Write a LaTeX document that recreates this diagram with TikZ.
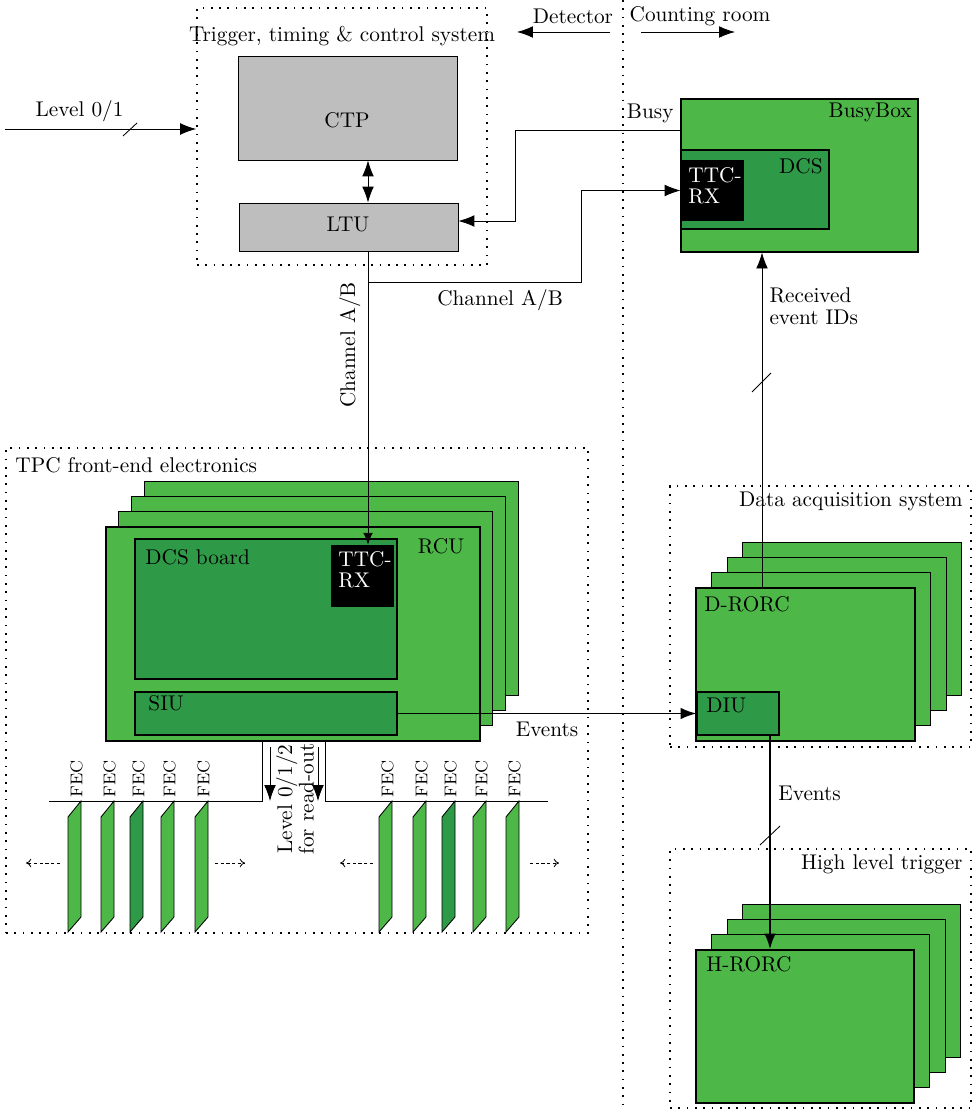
\documentclass[tikz,border=0pt]{standalone}
\usepackage{tikz}
\usetikzlibrary{arrows.meta,positioning,fit}
\definecolor{boardgreen}{RGB}{77,184,72}
\definecolor{chipgreen}{RGB}{46,154,72}
\definecolor{unitgray}{RGB}{190,190,190}
\tikzset{
  unit/.style={draw, fill=unitgray, inner sep=0pt},
  board/.style={draw, fill=boardgreen, inner sep=0pt, line width=0.5pt},
  chip/.style={draw, fill=chipgreen, inner sep=0pt, line width=0.5pt},
  rxchip/.style={fill=black, inner sep=0pt},
  sysbox/.style={draw, line width=0.8pt, dash pattern=on 0.8pt off 3.1pt, inner sep=0pt},
  txt/.style={inner sep=0pt},
  rxtxt/.style={inner sep=0pt, anchor=north west, align=left, text=white},
  more/.style={dash pattern=on 1.5pt off 1.2pt, -{To[length=2.5pt,width=4pt]}},
}

\begin{document}
\begin{tikzpicture}[x=0.47pt, y=-0.47pt, >={Latex[length=7.5pt,width=5.5pt]}]
    \useasboundingbox (0,0) rectangle (973,1110);

    % Dotted system boxes and the detector / counting room border
    \node[sysbox, fit={(197,8) (487,265)}] (ttc) {};
    \node[sysbox, fit={(6,448) (588,933)}] (tpc) {};
    \node[sysbox, fit={(670,486) (971,747)}] (daq) {};
    \node[sysbox, fit={(670,849) (971,1108)}] (hlt) {};
    \draw[sysbox] (623,0) -- (623,1110);

    \node[txt] (ttctitle) at (342,36) {Trigger, timing \& control system};
    \node[txt, anchor=west] (tpctitle) at (15,465) {TPC front-end electronics};
    \node[txt, anchor=east] (daqtitle) at (963,501) {Data acquisition system};
    \node[txt, anchor=east] (hlttitle) at (963,864) {High level trigger};
    \node[txt] (dettitle) at (573,16) {Detector};
    \node[txt] (crtitle) at (700,16) {Counting room};
    \coordinate (detA) at (610,32);
    \coordinate (detB) at (517,32);
    \coordinate (crA) at (641,32);
    \coordinate (crB) at (735,32);
    \draw[->] (detA) -- (detB);
    \draw[->] (crA) -- (crB);

    % Trigger units
    \node[unit, fit={(238,56) (457,160)}] (ctp) {};
    \node[txt] (ctplabel) at (347,120) {CTP};
    \node[unit, fit={(239,203) (458,251)}] (ltu) {};
    \node[txt] (ltulabel) at (348,224) {LTU};

    % BusyBox
    \node[board, fit={(681,99) (918,252)}] (busybox) {};
    \node[txt, anchor=east] (busyboxlabel) at (912,112) {BusyBox};
    \node[chip, fit={(681,150) (829,229)}] (bbdcs) {};
    \node[txt, anchor=east] (bbdcslabel) at (823,166) {DCS};
    \node[rxchip, fit={(681,160) (744,221)}] (bbttc) {};
    \node[rxtxt] (bbttclabel) at (688,167) {TTC-\\[-2pt]RX};

    % RCU stack
    \foreach \i in {3,2,1}
        \draw[board] (106+12.7*\i,527-15.3*\i) rectangle ++(374,214);
    \node[board, fit={(106,527) (480,741)}] (rcu) {};
    \node[txt] (rculabel) at (441,546) {RCU};
    \node[chip, fit={(135,539) (397,679)}] (dcsboard) {};
    \node[txt, anchor=west] (dcsboardlabel) at (145,557) {DCS board};
    \node[rxchip, fit={(331,545) (394,607)}] (rcuttc) {};
    \node[rxtxt] (rcuttclabel) at (338,551) {TTC-\\[-2pt]RX};
    \node[chip, fit={(135,692) (397,735)}] (siu) {};
    \node[txt, anchor=west] (siulabel) at (148,703) {SIU};

    % D-RORC stack
    \foreach \i in {3,2,1}
        \draw[board] (696+15.6*\i,588-15.3*\i) rectangle ++(219,153);
    \node[board, fit={(696,588) (915,741)}] (drorc) {};
    \node[txt, anchor=west] (drorclabel) at (704,604) {D-RORC};
    \node[chip, fit={(697,692) (779,735)}] (diu) {};
    \node[txt, anchor=west] (diulabel) at (706,705) {DIU};

    % H-RORC stack
    \foreach \i in {3,2,1}
        \draw[board] (696+15.6*\i,950-15.3*\i) rectangle ++(218,153);
    \node[board, fit={(696,950) (914,1103)}] (hrorc) {};
    \node[txt, anchor=west] (hrorclabel) at (706,964) {H-RORC};

    % Front-end cards on the two branches
    \coordinate (busl) at (49,801);
    \coordinate (busr) at (548,801);
    \draw (rcu.south -| 262,0) |- (busl);
    \draw (rcu.south -| 325,0) |- (busr);
    \foreach \x/\c in {68/boardgreen,101/boardgreen,130/chipgreen,161/boardgreen,195/boardgreen,
                       379/boardgreen,413/boardgreen,442/chipgreen,473/boardgreen,506/boardgreen}{
        \draw[fill=\c] (\x,932) -- (\x,817) -- (\x+13,801) -- (\x+13,917) -- cycle;
        \node[txt, rotate=90, anchor=west, font=\footnotesize] (fec\x) at (\x+8.5,798) {FEC};
    }
    \foreach \a/\b in {60/26,215/245,373/340,530/559}
        \draw[more] (\a,863) -- (\b,863);

    \coordinate (lvlA) at (270,747);
    \coordinate (lvlB) at (318,747);
    \draw[->] (lvlA) -- (lvlA |- busl);
    \draw[->] (lvlB) -- (lvlB |- busr);
    \node[txt, rotate=90, align=center] (lvllabel) at (295,799) {Level 0/1/2\\[-2pt]for read-out};

    % Level 0/1 input
    \coordinate (lvlin) at (5,129);
    \draw[->] (lvlin) -- node[above, pos=0.39] {Level 0/1} (lvlin -| ttc.west);
    \draw (123,136) -- (137,123);

    % CTP <-> LTU
    \coordinate (chj) at (368,282);
    \coordinate (chk) at (581,282);
    \draw[<->] (ctp.south -| chj) -- (ltu.north -| chj);

    % Channel A/B
    \draw (ltu.south -| chj) -- (chj);
    \draw[->] (chj) -- node[below, pos=0.62] {Channel A/B} (chk) |- (bbttc.west);
    \draw[->, >={Latex[length=5.5pt,width=4.5pt]}] (chj) -- node[rotate=90, above, pos=0.24] {Channel A/B} (rcuttc.north -| chj);

    % Busy
    \coordinate (busyout) at (681,130);
    \coordinate (bsx) at (515,221);
    \draw[->] (busyout) node[above left] {Busy} -| (bsx) -- (ltu.east |- bsx);

    % Received event IDs
    \draw[->] (drorc.north -| 762,0) -- node[right, pos=0.84, align=left] {Received\\[-2pt]event IDs} (busybox.south -| 762,0);
    \draw (752,392) -- (771,373);

    % Events
    \draw[->, line width=0.9pt] (siu.east) -- node[below] {Events} (diu.west);
    \draw[->, line width=1.2pt] (diu.south -| 770,0) -- node[right, pos=0.27] {Events} (hrorc.north -| 770,0);
    \draw (760,845) -- (780,826);
\end{tikzpicture}
\end{document}
